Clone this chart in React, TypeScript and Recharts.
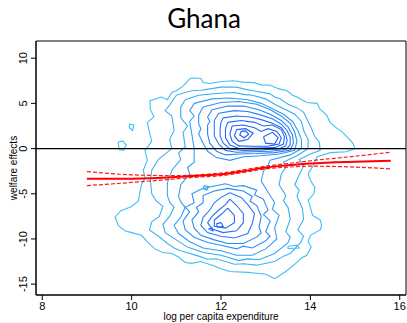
import React from 'react';
import { ComposedChart, Line, XAxis, YAxis, ReferenceLine, ReferenceArea } from 'recharts';

type P = [number, number];

const xTicks = [8, 10, 12, 14, 16];
const yTicks = [-15, -10, -5, 0, 5, 10];

// outer density contours (enclose both clusters)
const ringA: P[] = [
  [11.35, 7.8], [11.55, 7.75], [11.6, 7.3], [11.75, 7.2], [11.98, 7.4], [12.27, 7.5], [12.5, 7.35],
  [12.72, 7.3], [12.9, 7.05], [13.1, 7.0], [13.3, 6.6], [13.48, 6.4], [13.6, 5.9], [13.7, 5.7],
  [13.92, 5.1], [14.15, 5.0], [14.21, 4.4], [14.3, 4.0], [14.37, 3.65], [14.44, 2.9], [14.6, 2.2],
  [14.7, 1.9], [14.8, 1.4], [14.95, 0.6], [15.0, 0.0], [14.8, -0.35], [14.45, -0.45], [14.15, -0.9],
  [14.1, -1.5], [14.05, -2.0], [13.95, -2.8], [14.0, -3.5], [14.1, -4.3], [14.08, -5.0], [13.95, -5.7],
  [14.0, -6.5], [14.05, -7.4], [14.22, -7.9], [14.25, -8.5], [14.22, -9.0], [14.0, -9.6], [13.95, -10.3],
  [14.02, -10.9], [13.92, -11.8], [13.8, -12.1], [13.7, -12.6], [13.45, -13.6], [13.2, -14.4],
  [13.0, -13.9], [12.8, -13.8], [12.6, -13.7], [12.2, -13.6], [12.0, -13.3], [11.85, -13.0],
  [11.55, -12.5], [11.35, -12.7], [11.2, -12.6], [11.05, -12.0], [10.9, -11.6], [10.7, -11.5],
  [10.52, -11.1], [10.37, -10.4], [10.22, -9.6], [10.0, -9.3], [9.85, -9.1], [9.7, -8.5], [9.63, -7.6],
  [9.75, -6.9], [10.0, -6.4], [10.15, -5.8], [10.18, -5.0], [10.22, -4.0], [10.3, -3.2], [10.26, -2.4],
  [10.35, -1.3], [10.3, -0.2], [10.45, 0.8], [10.4, 1.8], [10.35, 2.9], [10.5, 3.5], [10.42, 4.3],
  [10.41, 5.3], [10.67, 5.7], [10.8, 5.4], [10.9, 6.2], [11.0, 6.4], [11.15, 6.9], [11.3, 7.7], [11.35, 7.8],
];
const ringB: P[] = [
  [11.0, 5.9], [11.2, 6.2], [11.35, 6.4], [11.55, 6.45], [11.75, 6.6], [12.0, 6.8], [12.35, 6.8],
  [12.55, 6.55], [12.72, 6.4], [13.1, 6.05], [13.2, 5.7], [13.32, 5.5], [13.5, 4.9], [13.7, 4.5],
  [13.85, 4.0], [13.92, 3.3], [14.0, 2.5], [14.06, 1.8], [14.1, 1.3], [14.2, 0.7], [14.22, -0.2],
  [14.0, -0.6], [13.75, -1.2], [13.85, -1.9], [13.78, -2.6], [13.65, -4.0], [13.75, -4.6], [13.7, -5.3],
  [13.82, -6.6], [13.85, -7.8], [13.72, -9.0], [13.85, -9.7], [13.78, -10.4], [13.55, -11.6],
  [13.4, -11.9], [13.2, -12.5], [12.8, -12.9], [12.5, -12.75], [12.3, -12.8], [11.9, -12.2],
  [11.7, -12.25], [11.5, -11.9], [11.1, -11.3], [10.95, -11.0], [10.8, -10.5], [10.6, -9.7],
  [10.4, -9.0], [10.45, -8.1], [10.62, -7.5], [10.7, -6.4], [10.55, -5.8], [10.45, -5.0], [10.42, -3.5],
  [10.45, -2.4], [10.6, -1.2], [10.9, 0.0], [10.85, 1.0], [10.95, 2.0], [10.9, 3.6], [10.75, 4.2],
  [10.85, 4.8], [11.0, 5.9],
];
const ringC: P[] = [
  [11.2, 5.4], [11.5, 5.9], [11.9, 6.1], [12.3, 6.2], [12.5, 6.0], [12.7, 5.9], [13.0, 5.5],
  [13.2, 4.9], [13.45, 4.3], [13.65, 3.8], [13.8, 3.0], [13.85, 2.0], [13.95, 1.0], [13.95, 0.0],
  [13.7, -0.8], [13.4, -1.5], [13.45, -2.1], [13.35, -2.8], [13.3, -4.0], [13.45, -5.2], [13.4, -5.8],
  [13.5, -6.5], [13.55, -7.8], [13.45, -9.2], [13.55, -9.8], [13.5, -10.4], [13.2, -11.6],
  [12.85, -12.3], [12.6, -12.2], [12.4, -12.4], [12.0, -11.8], [11.6, -11.5], [11.25, -10.9],
  [11.0, -10.1], [10.75, -9.3], [10.7, -8.4], [10.85, -7.5], [10.95, -6.5], [10.85, -5.9], [10.8, -5.2],
  [10.8, -3.8], [10.9, -2.4], [11.1, -1.2], [11.05, -0.5], [11.2, 0.2], [11.15, 1.8], [11.25, 2.5],
  [11.1, 3.4], [11.1, 4.6], [11.2, 5.4],
];
const ringD: P[] = [
  [11.4, 5.0], [11.8, 5.5], [12.2, 5.6], [12.6, 5.4], [12.9, 5.0], [13.15, 4.4], [13.4, 3.8],
  [13.6, 3.0], [13.72, 2.0], [13.8, 1.0], [13.8, 0.0], [13.55, -0.7], [13.1, -1.3], [13.05, -1.9],
  [12.95, -2.5], [12.9, -3.6], [13.05, -4.8], [13.2, -6.0], [13.15, -6.7], [13.3, -7.4], [13.2, -8.8],
  [13.25, -10.0], [13.0, -11.1], [12.7, -11.8], [12.35, -11.8], [12.0, -11.3], [11.6, -11.0],
  [11.3, -10.3], [11.05, -9.4], [10.95, -8.5], [11.1, -7.6], [11.2, -6.5], [11.1, -5.9], [11.05, -5.3],
  [11.1, -4.0], [11.3, -2.8], [11.25, -2.1], [11.4, -1.5], [11.4, 0.0], [11.35, 1.5], [11.3, 3.0],
  [11.4, 3.6], [11.3, 4.2], [11.4, 5.0],
];

// upper cluster
const up1: P[] = [
  [11.6, 4.6], [12.0, 5.1], [12.4, 5.2], [12.8, 4.9], [13.1, 4.3], [13.35, 3.6], [13.55, 2.8],
  [13.65, 1.8], [13.7, 0.8], [13.65, -0.2], [13.3, -0.6], [12.9, -0.8], [12.5, -0.9], [12.2, -1.3],
  [11.9, -1.0], [11.7, -0.3], [11.6, 0.6], [11.5, 1.6], [11.55, 2.2], [11.5, 2.7], [11.5, 3.7], [11.6, 4.6],
];
const up2: P[] = [
  [11.8, 4.3], [12.15, 4.7], [12.5, 4.7], [12.85, 4.3], [13.1, 3.8], [13.35, 3.1], [13.5, 2.4],
  [13.6, 1.5], [13.62, 0.6], [13.55, -0.2], [13.2, -0.45], [12.8, -0.55], [12.4, -0.6], [12.1, -0.7],
  [11.9, -0.3], [11.75, 0.6], [11.7, 1.6], [11.7, 2.6], [11.75, 3.0], [11.7, 3.5], [11.8, 4.3],
];
const up3: P[] = [
  [11.95, 3.9], [12.3, 4.2], [12.6, 4.1], [12.9, 3.7], [13.15, 3.3], [13.35, 2.7], [13.48, 2.0],
  [13.55, 1.2], [13.55, 0.4], [13.45, -0.1], [13.1, -0.3], [12.7, -0.35], [12.35, -0.4], [12.1, -0.2],
  [11.95, 0.5], [11.85, 1.4], [11.85, 2.3], [11.85, 3.1], [11.95, 3.9],
];
const up4: P[] = [
  [12.05, 3.4], [12.35, 3.6], [12.65, 3.5], [12.9, 3.2], [13.15, 2.8], [13.35, 2.3], [13.45, 1.6],
  [13.48, 0.9], [13.45, 0.3], [13.3, -0.05], [12.9, -0.15], [12.5, -0.2], [12.2, -0.05], [12.05, 0.6],
  [11.98, 1.4], [11.98, 2.2], [12.0, 2.9], [12.05, 3.4],
];
const up5: P[] = [
  [12.15, 2.9], [12.45, 3.1], [12.75, 2.9], [12.95, 2.5], [13.15, 2.6], [13.35, 2.1], [13.42, 1.3],
  [13.4, 0.5], [13.2, 0.1], [12.8, 0.05], [12.4, 0.0], [12.2, 0.4], [12.1, 1.2], [12.1, 2.2], [12.15, 2.9],
];
const up6: P[] = [
  [12.25, 2.5], [12.5, 2.6], [12.75, 2.3], [12.9, 1.9], [13.05, 2.2], [13.25, 1.9], [13.35, 1.2],
  [13.3, 0.5], [13.05, 0.25], [12.7, 0.25], [12.4, 0.3], [12.25, 0.8], [12.2, 1.6], [12.25, 2.5],
];
const up7a: P[] = [[12.35, 2.1], [12.55, 2.2], [12.72, 1.7], [12.6, 1.0], [12.4, 0.8], [12.3, 1.4], [12.35, 2.1]];
const up7b: P[] = [[12.95, 1.3], [13.15, 1.8], [13.28, 1.2], [13.2, 0.5], [13.0, 0.6], [12.95, 1.3]];
const up8: P[] = [[12.45, 1.9], [12.55, 1.95], [12.62, 1.6], [12.52, 1.2], [12.42, 1.5], [12.45, 1.9]];

// lower cluster
const lo1: P[] = [
  [12.1, -3.9], [12.3, -4.2], [12.5, -4.1], [12.8, -4.6], [12.75, -5.1], [12.95, -5.6], [13.05, -6.8],
  [12.95, -7.3], [13.1, -8.0], [13.0, -9.2], [13.1, -9.7], [13.0, -10.2], [12.7, -11.0], [12.5, -10.8],
  [12.35, -11.1], [12.0, -10.7], [11.7, -10.4], [11.4, -9.8], [11.2, -9.0], [11.15, -8.0], [11.3, -7.0],
  [11.2, -6.5], [11.4, -6.0], [11.35, -5.0], [11.55, -4.5], [11.8, -4.2], [12.1, -3.9],
];
const lo2: P[] = [
  [12.15, -4.4], [12.5, -4.7], [12.7, -5.3], [12.65, -5.8], [12.8, -6.3], [12.9, -7.5], [12.85, -8.7],
  [12.9, -9.3], [12.8, -9.8], [12.5, -10.5], [12.15, -10.5], [11.85, -10.1], [11.55, -9.6], [11.4, -8.8],
  [11.35, -7.9], [11.5, -7.0], [11.45, -6.5], [11.6, -6.0], [11.6, -5.2], [11.85, -4.7], [12.15, -4.4],
];
const lo3: P[] = [
  [12.2, -4.9], [12.45, -5.4], [12.6, -6.2], [12.75, -7.2], [12.7, -8.3], [12.6, -9.4], [12.3, -9.9],
  [12.0, -9.7], [11.7, -9.3], [11.55, -8.5], [11.6, -7.6], [11.75, -6.8], [11.85, -6.0], [12.0, -5.4], [12.2, -4.9],
];
const lo4: P[] = [
  [12.2, -5.6], [12.35, -6.3], [12.5, -7.2], [12.5, -8.2], [12.35, -9.1], [12.05, -9.3], [11.8, -8.9],
  [11.7, -8.2], [11.8, -7.5], [11.95, -6.8], [12.1, -6.2], [12.2, -5.6],
];
const lo5: P[] = [
  [12.15, -6.6], [12.3, -7.4], [12.3, -8.2], [12.1, -8.8], [11.85, -8.6], [11.85, -7.9], [12.0, -7.3], [12.15, -6.6],
];
const lo6: P[] = [[11.9, -8.3], [12.0, -8.2], [12.05, -8.6], [11.92, -8.7], [11.9, -8.3]];
const lo7: P[] = [[11.72, -8.9], [11.8, -8.75], [11.82, -9.1], [11.72, -8.9]];

// small islands
const isl1: P[] = [[9.7, 0.7], [9.8, 0.85], [9.88, 0.4], [9.82, -0.2], [9.72, -0.1], [9.7, 0.7]];
const isl2: P[] = [[9.95, 2.7], [10.05, 2.6], [10.02, 2.0], [9.95, 2.3], [9.95, 2.7]];
const isl3: P[] = [[13.5, -10.8], [13.7, -10.7], [13.75, -11.0], [13.5, -11.05], [13.5, -10.8]];
const isl4: P[] = [[11.62, -4.1], [11.72, -4.2], [11.68, -4.6], [11.6, -4.4], [11.62, -4.1]];

// fitted line and confidence band
const fitX = [9, 10, 11, 11.5, 12, 12.5, 13, 13.5, 14, 15, 15.8];
const fitMid = [-3.35, -3.33, -3.15, -3.0, -2.85, -2.5, -2.1, -1.85, -1.65, -1.45, -1.35];
const fitHi = [-2.55, -2.9, -3.0, -2.9, -2.7, -2.35, -1.95, -1.65, -1.35, -0.85, -0.4];
const fitLo = [-4.1, -3.75, -3.35, -3.15, -3.0, -2.65, -2.25, -2.05, -1.95, -2.05, -2.25];

const contours: { pts: P[]; color: string }[] = [
  { pts: ringA, color: '#3ebff7' },
  { pts: ringB, color: '#3bb5f6' },
  { pts: ringC, color: '#38aaf6' },
  { pts: ringD, color: '#349ef6' },
  { pts: up1, color: '#3092f6' },
  { pts: up2, color: '#2c86f6' },
  { pts: up3, color: '#297bf6' },
  { pts: up4, color: '#2672f6' },
  { pts: up5, color: '#236af6' },
  { pts: up6, color: '#2064f5' },
  { pts: up7a, color: '#1e60f5' },
  { pts: up7b, color: '#1e60f5' },
  { pts: up8, color: '#1c5cf5' },
  { pts: lo1, color: '#3092f6' },
  { pts: lo2, color: '#2c86f6' },
  { pts: lo3, color: '#297bf6' },
  { pts: lo4, color: '#2672f6' },
  { pts: lo5, color: '#236af6' },
  { pts: lo6, color: '#2064f5' },
  { pts: lo7, color: '#2064f5' },
  { pts: isl1, color: '#3ebff7' },
  { pts: isl2, color: '#3ebff7' },
  { pts: isl3, color: '#3ebff7' },
  { pts: isl4, color: '#349ef6' },
];

const toRows = (pts: P[]) => pts.map(([x, y]) => ({ x, y }));
const fitRows = (ys: number[]) => fitX.map((x, i) => ({ x, y: ys[i] }));

const FONT = '"Liberation Sans", Arial, sans-serif';
const X_DOMAIN: [number, number] = [7.86, 16.14];
const Y_DOMAIN: [number, number] = [-16.2, 11.9];

const YTick = (props: any) => {
  const { y, payload } = props;
  return (
    <text x={27} y={y} transform={`rotate(-90 27 ${y})`} textAnchor="middle" fontSize={11} fill="#000" fontFamily={FONT}>
      {payload.value}
    </text>
  );
};

export default function App() {
  return (
    <div style={{ position: 'absolute', left: 0, top: 0, width: 407, height: 323, background: '#fff' }}>
      <ComposedChart width={407} height={323} margin={{ top: 41, right: 1, bottom: 0, left: 0 }}>
        <XAxis
          dataKey="x"
          type="number"
          domain={X_DOMAIN}
          ticks={xTicks}
          allowDataOverflow
          height={28}
          tickSize={5}
          axisLine={{ stroke: '#000' }}
          tickLine={{ stroke: '#000' }}
          tick={{ fontSize: 11, fill: '#000', fontFamily: FONT }}
        />
        <YAxis
          dataKey="y"
          type="number"
          domain={Y_DOMAIN}
          ticks={yTicks}
          allowDataOverflow
          width={36}
          tickSize={5}
          axisLine={{ stroke: '#000' }}
          tickLine={{ stroke: '#000' }}
          tick={<YTick />}
        />
        <ReferenceArea x1={X_DOMAIN[0]} x2={X_DOMAIN[1]} y1={Y_DOMAIN[0]} y2={Y_DOMAIN[1]} fill="none" stroke="#000" strokeWidth={1} />
        {contours.map((c, i) => (
          <Line
            key={i}
            data={toRows(c.pts)}
            dataKey="y"
            type="linear"
            stroke={c.color}
            strokeWidth={1.1}
            dot={false}
            activeDot={false}
            isAnimationActive={false}
          />
        ))}
        <ReferenceLine y={0} stroke="#000" strokeWidth={1.3} />
        <Line data={fitRows(fitHi)} dataKey="y" type="monotone" stroke="#ff1a1a" strokeWidth={1.2} strokeDasharray="4 2" dot={false} activeDot={false} isAnimationActive={false} />
        <Line data={fitRows(fitLo)} dataKey="y" type="monotone" stroke="#ff1a1a" strokeWidth={1.2} strokeDasharray="4 2" dot={false} activeDot={false} isAnimationActive={false} />
        <Line data={fitRows(fitMid)} dataKey="y" type="monotone" stroke="#ff0000" strokeWidth={2} dot={false} activeDot={false} isAnimationActive={false} />
      </ComposedChart>
      <svg width={407} height={323} style={{ position: 'absolute', left: 0, top: 0, pointerEvents: 'none' }}>
        <text x={204} y={28} textAnchor="middle" fontSize={26} fontFamily="Lato, sans-serif" fill="#000">Ghana</text>
        <text x={17} y={168} transform="rotate(-90 17 168)" textAnchor="middle" fontSize={10} fontFamily={FONT} fill="#000">welfare effects</text>
        <text x={221} y={320} textAnchor="middle" fontSize={10} fontFamily={FONT} fill="#000">log per capita expenditure</text>
      </svg>
    </div>
  );
}
